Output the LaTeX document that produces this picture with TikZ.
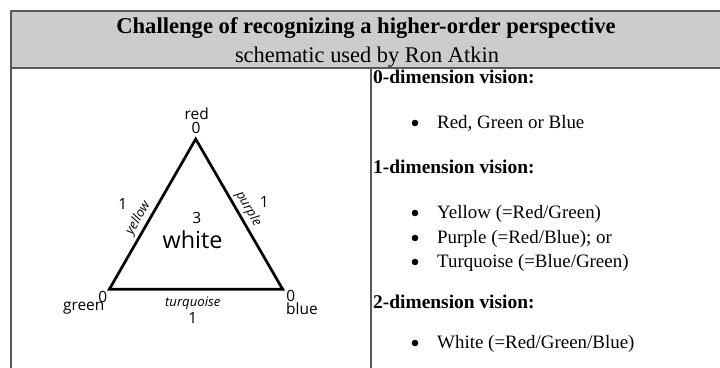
\documentclass[tikz,border=0pt]{standalone}
\usepackage{fontspec}
\setmainfont{Liberation Serif}
\newfontfamily\diagfont{Open Sans}
\usetikzlibrary{positioning}

\tikzset{
  tablerule/.style={draw=black!65, line width=1.6bp, line cap=butt},
  heading/.style={anchor=base west, inner sep=0pt, font=\bfseries\fontsize{19.5}{22}\selectfont},
  item/.style={anchor=base west, inner sep=0pt, font=\fontsize{19}{22}\selectfont},
  corner/.style={inner sep=0pt, font=\diagfont\fontsize{15.5}{18}\selectfont},
  side/.style={inner sep=0pt, font=\diagfont\itshape\fontsize{13.2}{16}\selectfont},
}

\begin{document}
\begin{tikzpicture}[x=1bp, y=1bp, line cap=round, line join=round]
  \useasboundingbox (0,0) rectangle (720,367);

  % table frame
  \fill[black!20] (11,356) rectangle (722,299);
  \draw[tablerule] (722,356) -- (11,356) -- (11,-2);
  \draw[tablerule] (11,299) -- (722,299);
  \draw[tablerule] (371,299) -- (371,-2);

  \node[anchor=base, inner sep=0pt, font=\bfseries\fontsize{22.7}{26}\selectfont] (title) at (366,334)
    {Challenge of recognizing a higher-order perspective};
  \node[anchor=base, inner sep=0pt, font=\fontsize{22.5}{26}\selectfont] (subtitle) at (367,305)
    {schematic used by Ron Atkin};

  % triangle
  \coordinate (redpt) at (195.7,228);
  \coordinate (greenpt) at (109.3,77.7);
  \coordinate (bluept) at (282.7,77.7);
  \draw[line width=2.7bp, line join=miter] (redpt) -- (greenpt) -- (bluept) -- cycle;

  \node[corner] (redzero) at (196,238.7) {0};
  \node[corner] (redname) at (196.7,253.7) {red};
  \node[corner] (greenzero) at (102.7,69.7) {0};
  \node[corner] (greenname) at (83.7,58.7) {green};
  \node[corner] (bluezero) at (290.7,71.3) {0};
  \node[corner] (bluename) at (302,58.7) {blue};

  \node[side] (turq) at (192.7,63.7) {turquoise};
  \node[corner] (turqone) at (192.7,49.3) {1};
  \node[side, rotate=60] (yellow) at (138.3,148.7) {yellow};
  \node[corner] (yellowone) at (122.7,163) {1};
  \node[side, rotate=-60] (purple) at (248.3,158) {purple};
  \node[corner] (purpleone) at (264.3,165.3) {1};

  \node[corner] (three) at (196.7,148.7) {3};
  \node[inner sep=0pt, font=\diagfont\fontsize{23.5}{27}\selectfont] (white) at (192.5,127) {white};

  % right column
  \node[heading] (zerodim) at (373,284) {0-dimension vision:};
  \node[item] (itemrgb) at (437,239) {Red, Green or Blue};
  \node[heading] (onedim) at (373,194) {1-dimension vision:};
  \node[item] (itemyellow) at (437,149) {Yellow (=Red/Green)};
  \node[item] (itempurple) at (437,124) {Purple (=Red/Blue); or};
  \node[item] (itemturq) at (437,100) {Turquoise (=Blue/Green)};
  \node[heading] (twodim) at (373,59) {2-dimension vision:};
  \node[item] (itemwhite) at (437,19) {White (=Red/Green/Blue)};

  \foreach \n in {itemrgb,itemyellow,itempurple,itemturq,itemwhite}
    \fill ([xshift=-22bp, yshift=5bp]\n.base west) circle (3.3bp);
\end{tikzpicture}
\end{document}
